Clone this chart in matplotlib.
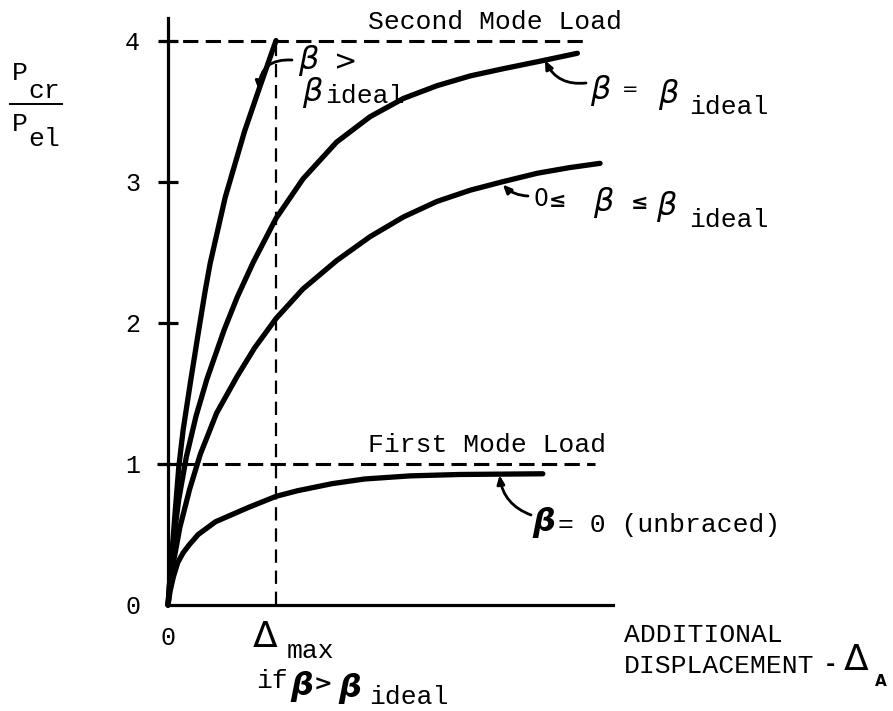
import matplotlib
matplotlib.use("Agg")
import matplotlib.pyplot as plt
from matplotlib.lines import Line2D

W, H = 893, 711
MONO = "Liberation Mono"
HAND = "DejaVu Sans"

# beta > beta_ideal (reaches the second mode load at delta_max)
x_over = [0, 0.025, 0.06, 0.10, 0.14, 0.21, 0.285, 0.345, 0.39, 0.53, 0.71, 0.84, 1.0]
y_over = [0, 0.25, 0.60, 0.98, 1.24, 1.59, 1.95, 2.23, 2.42, 2.89, 3.36, 3.65, 4.0]

# beta = beta_ideal
x_ideal = [0, 0.02, 0.05, 0.10, 0.17, 0.26, 0.36, 0.52, 0.64, 0.79, 1.0, 1.25,
           1.56, 1.87, 2.18, 2.49, 2.80, 3.10, 3.42, 3.79]
y_ideal = [0, 0.22, 0.45, 0.75, 1.05, 1.34, 1.60, 1.95, 2.18, 2.43, 2.74, 3.02,
           3.28, 3.46, 3.59, 3.68, 3.75, 3.80, 3.85, 3.91]

# 0 <= beta <= beta_ideal
x_mid = [0, 0.02, 0.05, 0.11, 0.20, 0.30, 0.45, 0.64, 0.80, 1.0, 1.25, 1.56,
         1.87, 2.18, 2.49, 2.80, 3.10, 3.42, 3.72, 4.0]
y_mid = [0, 0.14, 0.30, 0.55, 0.82, 1.07, 1.36, 1.62, 1.82, 2.03, 2.24, 2.44,
         2.61, 2.75, 2.86, 2.94, 3.00, 3.06, 3.10, 3.13]

# beta = 0 (unbraced)
x_zero = [0, 0.02, 0.05, 0.09, 0.14, 0.20, 0.28, 0.44, 0.59, 0.74, 1.0, 1.20,
          1.52, 1.82, 2.24, 2.70, 3.47]
y_zero = [0, 0.10, 0.20, 0.30, 0.37, 0.43, 0.50, 0.59, 0.64, 0.69, 0.77, 0.81,
          0.86, 0.893, 0.915, 0.925, 0.93]

first_mode = 1
second_mode = 4
delta_max = 1
y_ticks = [1, 2, 3, 4]
y_labels = ["1", "2", "3", "4"]

fig = plt.figure(figsize=(W / 100, H / 100), dpi=100)
ax = fig.add_axes([168 / W, 1 - 605 / H, (613 - 168) / W, (605 - 18) / H])
ax.set_xlim(0, 4.12)
ax.set_ylim(0, 4.16)

for s in ["top", "right"]:
    ax.spines[s].set_visible(False)
for s in ["left", "bottom"]:
    ax.spines[s].set_linewidth(2.3)

ax.set_yticks([0] + y_ticks)
ax.set_yticklabels(["0"] + y_labels, fontfamily=MONO, fontsize=18)
ax.tick_params(axis="y", direction="inout", length=14, width=2.3, pad=13)
ax.yaxis.get_major_ticks()[0].tick1line.set_visible(False)
ax.set_xticks([0])
ax.set_xticklabels(["0"], fontfamily=MONO, fontsize=18)
ax.tick_params(axis="x", length=0, pad=15)

dash = (0, (5, 2.4))
ax.hlines(second_mode, -0.07, 3.88, colors="k", lw=2.2, linestyles=dash, clip_on=False)
ax.hlines(first_mode, -0.10, 3.95, colors="k", lw=2.2, linestyles=dash, clip_on=False)
ax.vlines(delta_max, 0, second_mode, colors="k", lw=1.6, linestyles=(0, (6, 3.5)))

for xs, ys in [(x_over, y_over), (x_ideal, y_ideal), (x_mid, y_mid), (x_zero, y_zero)]:
    ax.plot(xs, ys, color="k", lw=3.8, solid_capstyle="round",
            solid_joinstyle="round", clip_on=False)


def ftext(px, py, s, **kw):
    kw.setdefault("fontfamily", MONO)
    kw.setdefault("fontsize", 19)
    kw.setdefault("va", "baseline")
    kw.setdefault("ha", "left")
    fig.text(px / W, 1 - py / H, s, **kw)


def beta(px, py, size=23, bold=False):
    fig.text(px / W, 1 - py / H, "β", fontfamily=HAND, fontstyle="italic",
             fontsize=size, fontweight="bold" if bold else "normal",
             ha="center", va="center")


def arrow(xy, px, py, rad):
    ax.annotate("", xy=xy, xycoords="data", xytext=(px, H - py),
                textcoords="figure pixels",
                arrowprops=dict(arrowstyle="-|>,head_length=0.5,head_width=0.22",
                                lw=2, color="k", shrinkA=0, shrinkB=0,
                                connectionstyle=f"arc3,rad={rad}"))


# y label P_cr / P_el
ftext(12, 80, "P")
ftext(28, 98, "cr")
fig.add_artist(Line2D([10 / W, 62 / W], [1 - 104 / H, 1 - 104 / H], color="k", lw=1.4))
ftext(12, 131, "P")
ftext(28, 146, "el")

ftext(368, 29, "Second Mode Load")
ftext(368, 452, "First Mode Load")

# beta > beta_ideal
beta(308, 60)
ftext(346, 62, ">", va="center", ha="center", fontfamily=HAND, fontsize=20)
beta(312, 92)
ftext(325, 103, "ideal")
arrow((0.84, 3.65), 292, 60, 0.5)

# beta = beta_ideal
beta(600, 90)
ftext(630, 89, "=", va="center", ha="center", fontfamily=HAND, fontsize=14)
beta(668, 94)
ftext(689, 114, "ideal")
arrow((3.49, 3.86), 586, 83, -0.35)

# 0 <= beta <= beta_ideal
ftext(541, 199, "0", va="center", ha="center", fontfamily=HAND, fontsize=17)
ftext(558, 201, "≤", va="center", ha="center", fontfamily=HAND, fontsize=15, fontweight="bold")
beta(603, 203)
ftext(640, 203, "≤", va="center", ha="center", fontfamily=HAND, fontsize=15, fontweight="bold")
beta(666, 207)
ftext(689, 227, "ideal")
arrow((3.10, 2.98), 528, 196, -0.2)

# beta = 0 (unbraced)
beta(544, 522, bold=True)
ftext(558, 532, "= 0 (unbraced)")
arrow((3.07, 0.92), 531, 515, -0.3)

# delta_max if beta > beta_ideal
ftext(265, 637, "Δ", va="center", ha="center", fontfamily=HAND, fontsize=26)
ftext(287, 658, "max")
ftext(256, 688, "if")
beta(302, 686, bold=True)
ftext(323, 685, ">", va="center", ha="center", fontfamily=HAND, fontsize=16, fontweight="bold")
beta(350, 688, bold=True)
ftext(369, 704, "ideal")

# axis title
ftext(624, 642, "ADDITIONAL")
ftext(624, 673, "DISPLACEMENT")
ftext(830, 665, "-", va="center", ha="center", fontfamily=HAND, fontsize=16, fontweight="bold")
ftext(856, 660, "Δ", va="center", ha="center", fontfamily=HAND, fontsize=26)
ftext(875, 686, "A", fontfamily=HAND, fontsize=11, fontweight="bold")

fig.savefig("out.png", dpi=100)
